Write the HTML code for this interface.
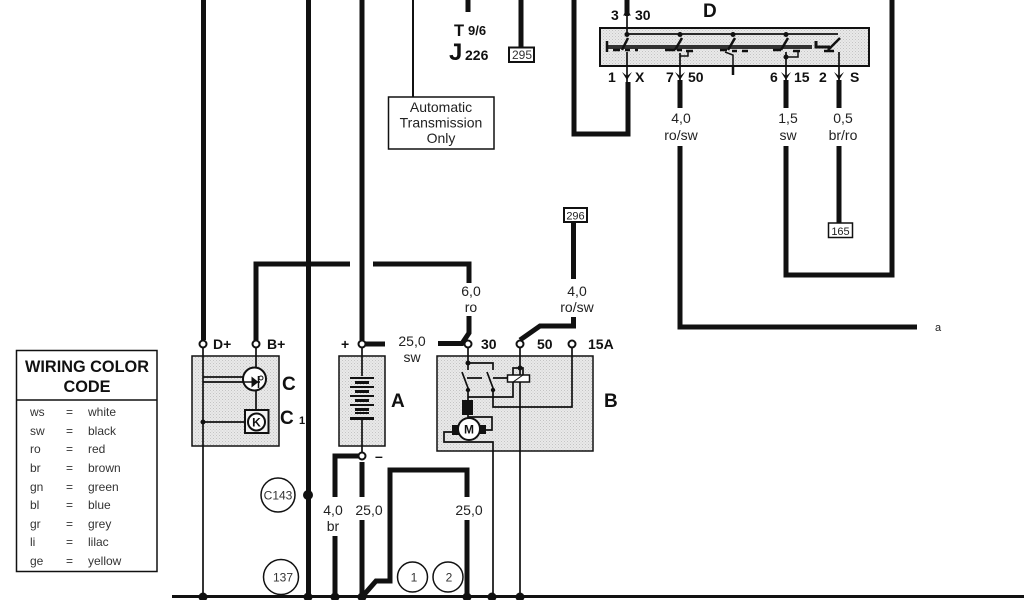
<!DOCTYPE html>
<html><head><meta charset="utf-8"><style>
html,body{margin:0;padding:0;background:#fff}
svg{display:block;width:1024px;height:600px}
text{font-family:"Liberation Sans",sans-serif;fill:#222}
.l{font-size:14px;text-anchor:middle}
.b{font-size:14px;font-weight:bold;fill:#111}
.h{font-size:19px;font-weight:bold;fill:#111}
.k{font-size:12px;fill:#333}
.w{fill:none;stroke:#111;stroke-miterlimit:10}
.n{fill:#fff;stroke:#111;stroke-width:2}
.d{fill:#111}
</style></head><body>
<svg xmlns="http://www.w3.org/2000/svg" width="1024" height="600" viewBox="0 0 1024 600">
<defs><pattern id="s" width="3" height="3" patternUnits="userSpaceOnUse"><rect width="3" height="3" fill="#e9e9e9"/><rect width="1" height="1" fill="#c4c4c4"/><rect x="1.500" y="1.500" width="1" height="1" fill="#cfcfcf"/></pattern></defs>
<rect width="1024" height="600" fill="#fff"/>

<!-- main bus -->
<path class="w" stroke-width="3" d="M172 596.500H1024"/>

<!-- thick wires -->
<g class="w" stroke-width="5">
<path d="M203.500 0V340"/>
<path d="M308.500 0V597"/>
<path d="M362 0V340"/>
<path d="M256 340V264H350"/>
<path d="M373 264H469V283"/>
<path d="M469 316V333L462 343.500H438"/>
<path d="M362 344H385"/>
<path d="M468 0V12"/>
<path d="M521 0V47"/>
<path d="M627 0V16"/>
<path d="M574 0V134H628V82"/>
<path d="M680 80V108"/>
<path d="M786 80V108"/>
<path d="M839 80V108"/>
<path d="M680 146V327H917"/>
<path d="M786 146V275H892V0"/>
<path d="M839 146V223"/>
<path d="M573.500 223V279"/>
<path d="M573.500 317V326H540L520 340"/>
<path d="M362 456H335V497"/>
<path d="M335 536V597"/>
<path d="M362 462V497"/>
<path d="M362 520V597"/>
<path d="M362 597L376 581H390V470H467V497"/>
<path d="M467 520V597"/>
</g>
<path class="w" stroke-width="2" d="M413 0V97"/>

<!-- component boxes -->
<rect x="192" y="356" width="87" height="90" fill="url(#s)" stroke="#111" stroke-width="1.500"/>
<rect x="339" y="356" width="46" height="90" fill="url(#s)" stroke="#111" stroke-width="1.500"/>
<rect x="437" y="356" width="156" height="95" fill="url(#s)" stroke="#111" stroke-width="1.500"/>
<rect x="600" y="28" width="269" height="38" fill="url(#s)" stroke="#111" stroke-width="2"/>

<!-- thin wires -->
<g class="w" stroke-width="1.700">
<path d="M203 348V597"/>
<path d="M203 377H244"/>
<path d="M203 382H244"/>
<path d="M203 422H245"/>
<path d="M256 348V368"/>
<path d="M256 390V410"/>
<path d="M362 348V376"/>
<path d="M362 420V452"/>
<!-- starter wiring -->
<path d="M468 348V370"/>
<path d="M468 363H493V370"/>
<path d="M462 372L468 388V400"/>
<path d="M487 372L493 388V407H572V348"/>
<path d="M467 378H482M493 378H507"/>
<path d="M468 397H513V382"/>
<path d="M513 375V368H523V375"/>
<path d="M520 348V597"/>
<path d="M468 415V417H492V430H485"/>
<path d="M452 432H444V442H493V597"/>
<!-- relay D wiring -->
<path d="M627 16V34"/>
<path d="M627 52V84"/>
<path d="M680 53V84"/>
<path d="M786 52V84"/>
<path d="M839 52V84"/>
<path d="M627 34H838"/>
</g>

<!-- battery -->
<g fill="#111">
<rect x="350" y="377" width="24" height="2"/><rect x="355" y="381" width="14" height="3"/>
<rect x="350" y="386" width="24" height="2"/><rect x="355" y="390" width="14" height="3"/>
<rect x="350" y="395" width="24" height="2"/><rect x="355" y="399" width="14" height="3"/>
<rect x="350" y="404" width="24" height="2"/><rect x="355" y="408" width="14" height="3"/>
<rect x="355" y="412" width="14" height="2"/><rect x="350" y="417" width="24" height="3"/>
</g>

<!-- alternator -->
<circle cx="254.500" cy="379" r="11.500" fill="#fff" stroke="#111" stroke-width="2"/>
<path d="M243 382H260M258.500 376V388" stroke="#111" stroke-width="1.500"/>
<path d="M251.500 376.500V387.500L258.500 382Z" fill="#111"/>
<circle cx="261" cy="378" r="2" fill="none" stroke="#111"/>
<rect x="245" y="410" width="23.500" height="23" fill="#f2f2f2" stroke="#111" stroke-width="2"/>
<circle cx="256.500" cy="422" r="8.500" fill="#fff" stroke="#111" stroke-width="2"/>
<text x="256.500" y="426.500" font-size="12" font-weight="bold" text-anchor="middle" style="fill:#111">K</text>

<!-- starter -->
<rect x="462" y="400" width="11" height="15" fill="#111"/>
<rect x="507.500" y="375" width="22" height="7" fill="#fff" stroke="#111" stroke-width="1.500"/>
<path d="M513 382L523 375" stroke="#111"/>
<rect x="452" y="425" width="7" height="10" fill="#111"/><rect x="480" y="425" width="6" height="9" fill="#111"/>
<circle cx="469" cy="429" r="11" fill="#fff" stroke="#111" stroke-width="2"/>
<text x="469" y="433.500" font-size="12" font-weight="bold" text-anchor="middle" style="fill:#111">M</text>

<!-- relay D internals -->
<g stroke="#111" fill="none">
<path d="M606 47H812" stroke-width="4" stroke="#333"/><path d="M607 41V52" stroke-width="2.500"/>
<path d="M816 41V47H830" stroke-width="3"/>
<g stroke-width="2.500">
<path d="M622 50L628 38"/><path d="M613 50H620M625 50H630M635 50H638"/>
<path d="M675 50L682 38"/><path d="M665 50H675M677 50H682M686 51H693"/>
<path d="M728 50L735 38"/><path d="M720 50H727M732 51H737M742 51H748"/>
<path d="M781 50L788 38"/><path d="M773 50H781M793 51H800"/>
<path d="M828 50L840 38"/><path d="M824 51H834"/>
</g>
<path d="M680 56H688V51" stroke-width="1.500"/>
<path d="M725 52L733 55V67" stroke-width="1.500"/>
<path d="M733 66V75" stroke-width="2.500"/>
<path d="M786 57H798V51" stroke-width="1.500"/>
</g>
<circle class="d" cx="786" cy="57" r="2.500"/>
<circle class="d" cx="627" cy="34.500" r="2.500"/><circle class="d" cx="680" cy="34.500" r="2.500"/>
<circle class="d" cx="733" cy="34.500" r="2.500"/><circle class="d" cx="786" cy="34.500" r="2.500"/>
<g fill="#111">
<path d="M623 16L627 8L631 16L627 13Z"/>
<path d="M622 72L627 80L632 72L627 76Z"/>
<path d="M675 72L680 80L685 72L680 76Z"/>
<path d="M781 72L786 80L791 72L786 76Z"/>
<path d="M834 72L839 80L844 72L839 76Z"/>
</g>

<!-- terminal circles and junctions -->
<circle class="n" cx="203" cy="344" r="3.500"/><circle class="n" cx="256" cy="344" r="3.500"/>
<circle class="n" cx="362" cy="344" r="3.500"/><circle class="n" cx="362" cy="456" r="3.500"/>
<circle class="n" cx="468" cy="344" r="3.500"/><circle class="n" cx="520" cy="344" r="3.500"/>
<circle class="n" cx="572" cy="344" r="3.500"/>
<circle class="d" cx="203" cy="422" r="2.500"/><circle class="d" cx="468" cy="363" r="2.500"/>
<circle class="d" cx="520" cy="368" r="2.500"/><circle class="d" cx="468" cy="390" r="2.200"/>
<circle class="d" cx="493" cy="390" r="2.200"/>
<circle class="d" cx="308" cy="495" r="5"/>
<circle class="d" cx="203" cy="597" r="4.500"/><circle class="d" cx="308" cy="597" r="4.500"/>
<circle class="d" cx="335" cy="597" r="4.500"/><circle class="d" cx="362" cy="597" r="4.500"/>
<circle class="d" cx="467" cy="597" r="4.500"/><circle class="d" cx="492" cy="597" r="4.500"/>
<circle class="d" cx="520" cy="597" r="4.500"/>

<!-- reference circles -->
<circle cx="278" cy="495" r="17" fill="#fff" stroke="#111" stroke-width="1.500"/>
<text x="278" y="499.500" class="k" text-anchor="middle">C143</text>
<circle cx="281" cy="577" r="17.500" fill="#fff" stroke="#111" stroke-width="1.500"/>
<text x="283" y="581.500" class="k" text-anchor="middle">137</text>
<circle cx="412.500" cy="577" r="15" fill="#fff" stroke="#111" stroke-width="1.500"/>
<text x="414" y="581.500" class="k" text-anchor="middle">1</text>
<circle cx="448" cy="577" r="15" fill="#fff" stroke="#111" stroke-width="1.500"/>
<text x="449" y="581.500" class="k" text-anchor="middle">2</text>

<!-- small ref boxes -->
<rect x="509" y="47.500" width="25" height="14.500" fill="#fff" stroke="#111" stroke-width="2"/>
<text x="522" y="59" class="k" text-anchor="middle">295</text>
<rect x="564" y="208" width="23" height="14" fill="#fff" stroke="#111" stroke-width="2"/>
<text x="575.500" y="219.500" font-size="11" text-anchor="middle">296</text>
<rect x="828.500" y="223" width="24" height="14.500" fill="#fff" stroke="#111" stroke-width="1.500"/>
<text x="840.500" y="235" font-size="11" text-anchor="middle">165</text>

<!-- auto transmission -->
<rect x="388.500" y="97" width="105.500" height="52" fill="#fff" stroke="#111" stroke-width="1.500"/>
<text x="441" y="112" class="l">Automatic</text>
<text x="441" y="127.500" class="l">Transmission</text>
<text x="441" y="143" class="l">Only</text>

<!-- top labels -->
<text x="454" y="36" font-size="16.500" font-weight="bold" style="fill:#111">T</text>
<text x="468" y="35" font-size="13" font-weight="bold" style="fill:#111">9/6</text>
<text x="449" y="60" font-size="24" font-weight="bold" style="fill:#111">J</text>
<text x="465" y="60" class="b">226</text>
<text x="611" y="20" class="b">3</text><text x="635" y="20" class="b">30</text>
<text x="703" y="17" class="h">D</text>
<text x="608" y="82" class="b">1</text><text x="635" y="82" class="b">X</text>
<text x="666" y="82" class="b">7</text><text x="688" y="82" class="b">50</text>
<text x="770" y="82" class="b">6</text><text x="794" y="82" class="b">15</text>
<text x="819" y="82" class="b">2</text><text x="850" y="82" class="b">S</text>

<text x="681" y="123" class="l">4,0</text><text x="681" y="140" class="l">ro/sw</text>
<text x="788" y="123" class="l">1,5</text><text x="788" y="140" class="l">sw</text>
<text x="843" y="123" class="l">0,5</text><text x="843" y="140" class="l">br/ro</text>
<text x="935" y="331" font-size="11">a</text>
<text x="577" y="296" class="l">4,0</text><text x="577" y="312" class="l">ro/sw</text>
<text x="471" y="296" class="l">6,0</text><text x="471" y="312" class="l">ro</text>
<text x="412" y="346" class="l">25,0</text><text x="412" y="362" class="l">sw</text>
<text x="333" y="515" class="l">4,0</text><text x="333" y="531" class="l">br</text>
<text x="369" y="515" class="l">25,0</text><text x="469" y="515" class="l">25,0</text>

<text x="213" y="349" class="b">D+</text><text x="267" y="349" class="b">B+</text>
<text x="341" y="349" class="b">+</text><text x="375" y="461" class="b">–</text>
<text x="481" y="349" class="b">30</text><text x="537" y="349" class="b">50</text><text x="588" y="349" class="b">15A</text>
<text x="282" y="390" class="h">C</text>
<text x="280" y="424" class="h">C</text><text x="299" y="424" font-size="11" font-weight="bold" style="fill:#111">1</text>
<text x="391" y="407" class="h">A</text>
<text x="604" y="407" class="h">B</text>

<!-- colour table -->
<rect x="16.500" y="350.500" width="140.500" height="221" fill="#fff" stroke="#111" stroke-width="1.500"/>
<path d="M16 400H157" stroke="#111" stroke-width="1.500"/>
<text x="87" y="372" font-size="16.300" font-weight="bold" text-anchor="middle" style="fill:#111">WIRING COLOR</text>
<text x="87" y="392" font-size="16.300" font-weight="bold" text-anchor="middle" style="fill:#111">CODE</text>
<g>
<text x="30" y="416" class="k">ws</text><text x="66" y="416" class="k">=</text><text x="88" y="416" class="k">white</text>
<text x="30" y="435" class="k">sw</text><text x="66" y="435" class="k">=</text><text x="88" y="435" class="k">black</text>
<text x="30" y="453" class="k">ro</text><text x="66" y="453" class="k">=</text><text x="88" y="453" class="k">red</text>
<text x="30" y="472" class="k">br</text><text x="66" y="472" class="k">=</text><text x="88" y="472" class="k">brown</text>
<text x="30" y="491" class="k">gn</text><text x="66" y="491" class="k">=</text><text x="88" y="491" class="k">green</text>
<text x="30" y="509" class="k">bl</text><text x="66" y="509" class="k">=</text><text x="88" y="509" class="k">blue</text>
<text x="30" y="528" class="k">gr</text><text x="66" y="528" class="k">=</text><text x="88" y="528" class="k">grey</text>
<text x="30" y="546" class="k">li</text><text x="66" y="546" class="k">=</text><text x="88" y="546" class="k">lilac</text>
<text x="30" y="565" class="k">ge</text><text x="66" y="565" class="k">=</text><text x="88" y="565" class="k">yellow</text>
</g>
</svg>
</body></html>
